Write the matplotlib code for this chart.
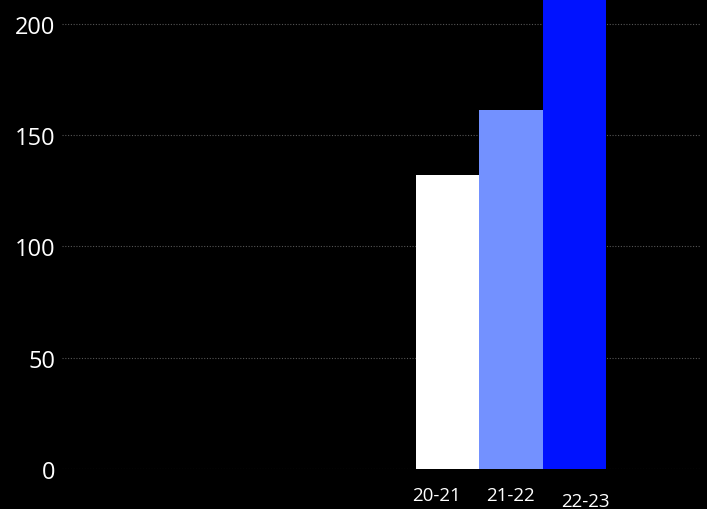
import matplotlib.pyplot as plt
from matplotlib.transforms import ScaledTranslation

seasons = ["20-21", "21-22", "22-23"]
values = [132, 161, 240]
colors = ["#ffffff", "#7391ff", "#0012ff"]

plt.rcParams['font.family'] = ["Open Sans", "DejaVu Sans"]

fig = plt.figure(figsize=(7.07, 5.10), dpi=100, facecolor="black")
ax = fig.add_axes([62 / 707, 40 / 510, 638 / 707, 470 / 510], facecolor="black")

x = list(range(len(seasons)))
ax.bar(x, values, width=1.0, color=colors, zorder=2)

ax.set_xlim(-6.07, 3.98)
ax.set_ylim(0, 211)
ax.set_yticks([0, 50, 100, 150, 200])
ax.yaxis.grid(True, color="#555555", linestyle=(0, (1, 1.5)), linewidth=0.8, zorder=0)

ax.set_xticks(x)
ax.set_xticklabels(seasons)
ax.tick_params(axis="x", length=0, labelsize=13.5, colors="white", pad=12)
ax.tick_params(axis="y", length=0, labelsize=17, colors="white", pad=5)

# the season labels sit slightly off the bar centres
shifts = [(-0.11, 0.0), (0.0, 0.0), (0.11, -0.06)]
for lab, (dx, dy) in zip(ax.get_xticklabels(), shifts):
    lab.set_transform(lab.get_transform() + ScaledTranslation(dx, dy, fig.dpi_scale_trans))

for s in ax.spines.values():
    s.set_visible(False)

fig.savefig("out.png", dpi=100, facecolor="black")
